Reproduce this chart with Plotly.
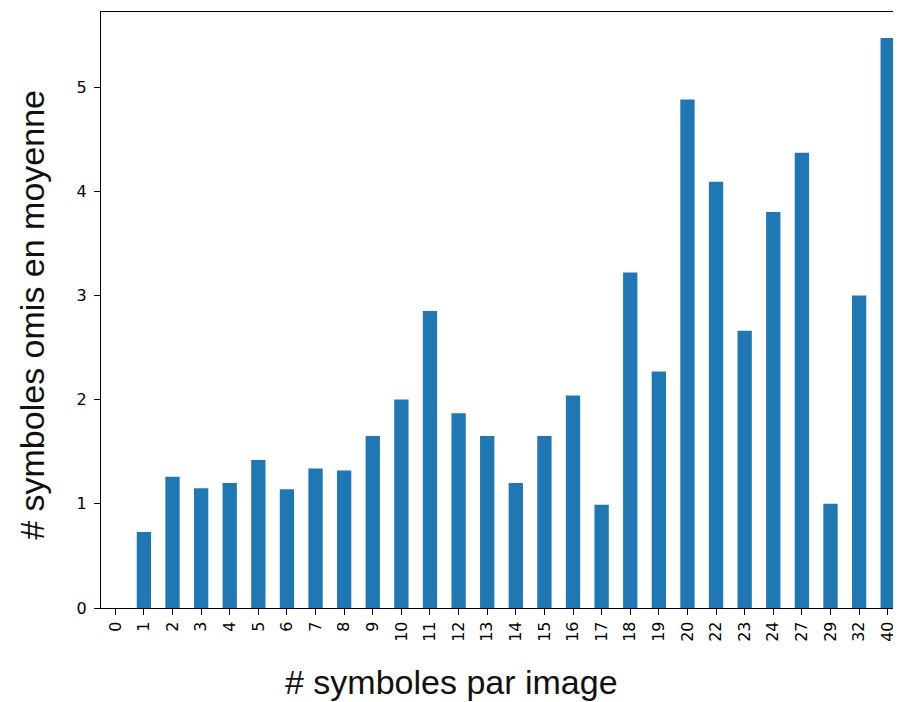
import plotly.graph_objects as go

categories = ["0", "1", "2", "3", "4", "5", "6", "7", "8", "9", "10", "11", "12", "13",
              "14", "15", "16", "17", "18", "19", "20", "22", "23", "24", "27", "29", "32", "40"]
values = [0.0, 0.73, 1.26, 1.15, 1.20, 1.42, 1.14, 1.34, 1.32, 1.65, 2.00, 2.85, 1.87, 1.65,
          1.20, 1.65, 2.04, 0.99, 3.22, 2.27, 4.88, 4.09, 2.66, 3.80, 4.37, 1.00, 3.00, 5.47]
x_title = "# symboles par image"
y_title = "# symboles omis en moyenne"

fig = go.Figure(go.Bar(x=categories, y=values, marker_color="#1f77b4",
                       marker_line_width=0, width=0.5))

fig.update_layout(
    width=893, height=694,
    margin=dict(l=93, r=0, t=4, b=94, autoexpand=False),
    plot_bgcolor="white", paper_bgcolor="white",
    font=dict(family="DejaVu Sans", color="black"),
    showlegend=False,
    annotations=[
        dict(text=x_title, xref="paper", yref="paper", x=0.4375, y=-0.124,
             xanchor="center", yanchor="middle", showarrow=False,
             font=dict(family="Liberation Sans", size=34, color="#111")),
        dict(text=y_title, xref="paper", yref="paper", x=-0.0865, y=0.4916,
             xanchor="center", yanchor="middle", showarrow=False, textangle=-90,
             font=dict(family="Liberation Sans", size=34, color="#111")),
    ],
)
fig.update_xaxes(
    type="category", range=[-0.5, 27.465],
    showline=True, linecolor="black", linewidth=1.2, mirror=True,
    ticks="outside", ticklen=6, tickcolor="black", tickangle=-90,
    tickfont=dict(size=16), showgrid=False,
)
fig.update_yaxes(
    range=[0, 5.72], tickvals=[0, 1, 2, 3, 4, 5],
    showline=True, linecolor="black", linewidth=1.2, mirror=True,
    ticks="outside", ticklen=6, tickcolor="black", ticklabelstandoff=4,
    tickfont=dict(size=16), showgrid=False, zeroline=False,
)

fig.write_html("out.html")
